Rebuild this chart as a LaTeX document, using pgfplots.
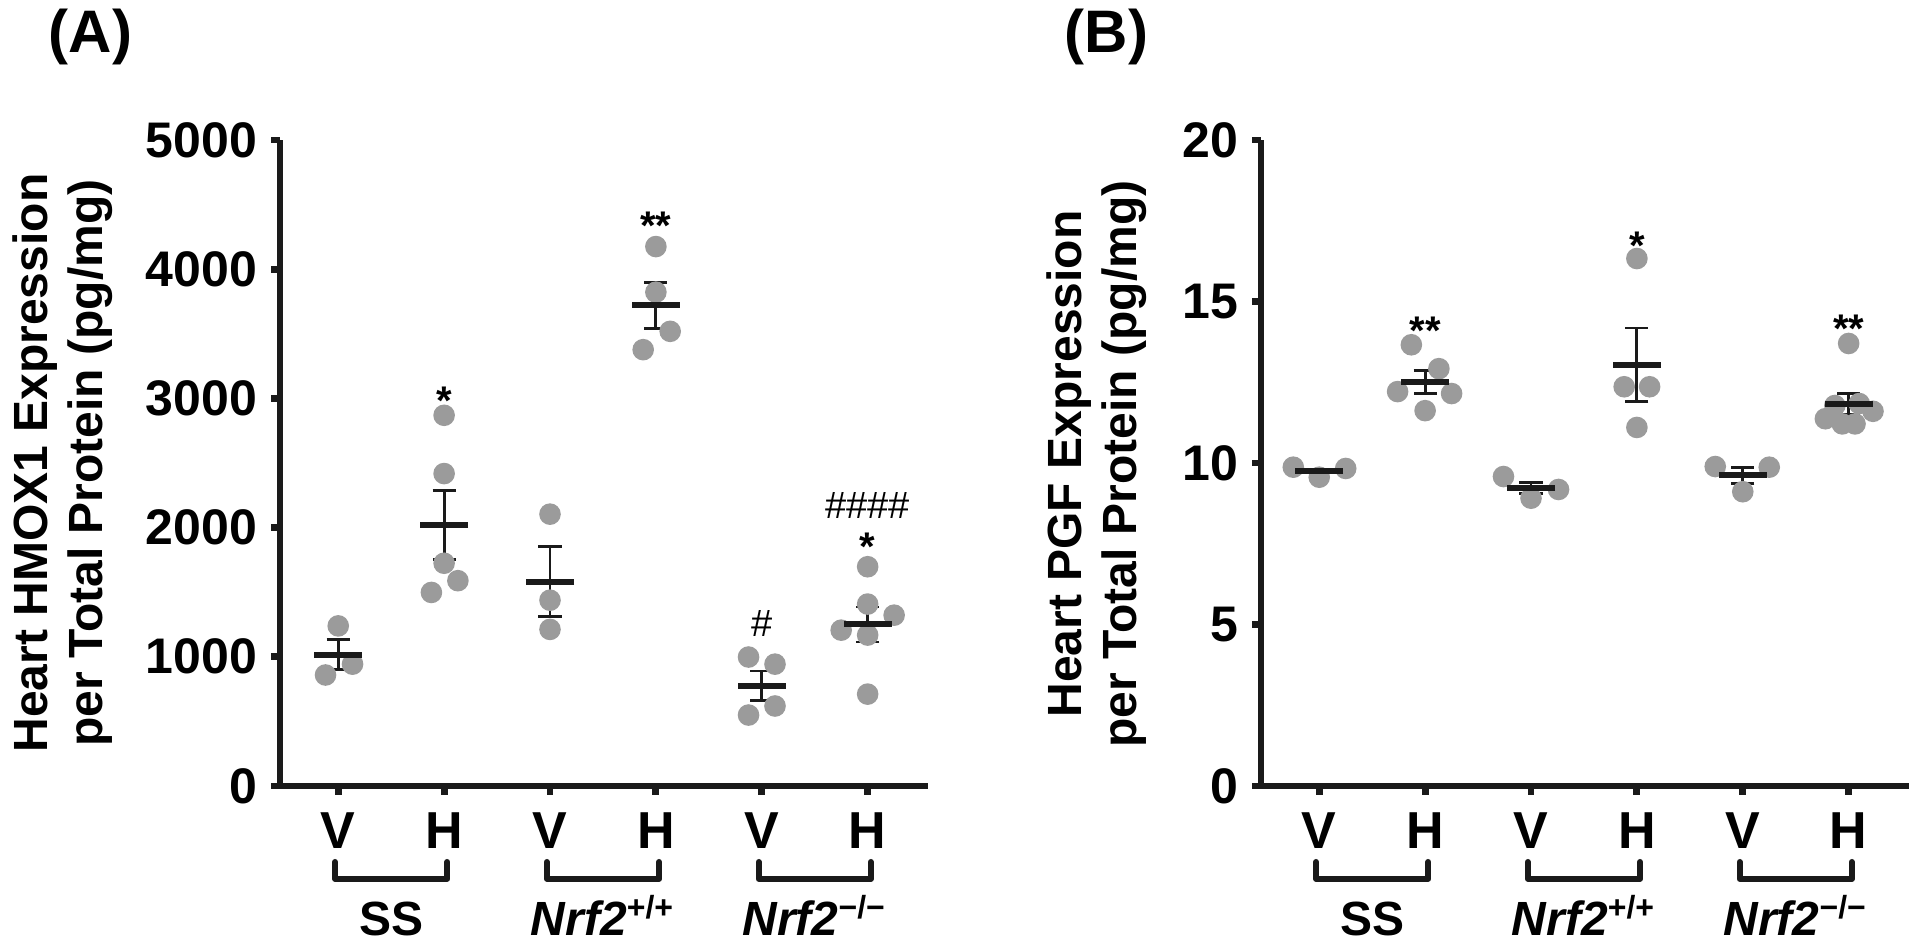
\documentclass[border=0pt]{standalone}
\usepackage{fontspec}
\setmainfont{Liberation Sans}
\usepackage{pgfplots}
\pgfplotsset{compat=1.18}
\definecolor{dotgray}{HTML}{9B9B9B}
\definecolor{ink}{HTML}{1A1A1A}

\pgfplotstableread{
x y
-0.00 1239
0.135 943
-0.12 859
1.00 2869
1.00 2418
1.00 1724
1.13 1589
0.88 1498
2.00 2104
2.00 1438
2.00 1212
3.00 4175
3.00 3822
3.135 3519
2.88 3377
3.875 998
4.125 943
4.125 619
3.875 549
5.00 1697
5.00 1408
5.25 1322
4.75 1206
5.00 1168
5.00 711
}\dotsA
\pgfplotstableread{
x m e
0 1017 115
1 2020 270
2 1582 270
3 3721 178
4 776 114
5 1250 135
}\meanA
\pgfplotstableread{
x y
-0.245 9.87
0.00 9.56
0.25 9.83
0.87 13.66
1.13 12.92
0.74 12.21
1.25 12.15
1.00 11.62
1.74 9.58
2.26 9.18
2.00 8.91
3.00 16.33
2.88 12.36
3.12 12.36
3.00 11.10
3.74 9.89
4.25 9.87
4.00 9.11
5.00 13.70
4.87 11.78
5.10 11.84
4.78 11.37
4.94 11.21
5.06 11.21
5.23 11.60
}\dotsB
\pgfplotstableread{
x m e
0 9.76 0.05
1 12.51 0.35
2 9.22 0.17
3 13.04 1.14
4 9.62 0.25
5 11.82 0.33
}\meanB

\pgfplotsset{
  panel/.style={
    scale only axis, width=162pt, height=161.5pt,
    xmin=-0.55, xmax=5.57, ymin=0,
    axis lines*=left,
    axis line style={line width=1.7pt, ink},
    tick align=outside,
    tick style={line width=1.7pt, ink},
    major tick length=2.2pt,
    xtick={0,1,2,3,4,5}, xticklabels={V,H,V,H,V,H},
    x tick label style={font=\fontsize{13}{13}\selectfont\bfseries, yshift=-1pt},
    y tick label style={font=\fontsize{12.5}{12.5}\selectfont\bfseries, /pgf/number format/1000 sep={}},
    scaled y ticks=false,
    /pgf/number format/assume math mode=true,
    clip=false,
  },
  dots/.style={only marks, mark=*, mark size=2.5pt, color=dotgray, mark options={draw=dotgray, fill=dotgray}},
  means/.style={ink, only marks, mark=-, mark size=6pt, mark options={line width=1.5pt, ink},
    error bars/.cd, y dir=both, y explicit,
    error bar style={line width=0.7pt, ink},
    error mark options={rotate=90, mark size=2.9pt, line width=0.7pt, ink}},
}
\newcommand{\brk}[2]{%
  \draw[line width=1.5pt, ink, line join=round, line cap=round]
    ([yshift=-19pt]axis cs:#1,0) -- ([yshift=-23.2pt]axis cs:#1,0) --
    ([yshift=-23.2pt]axis cs:#2,0) -- ([yshift=-19pt]axis cs:#2,0);
}
\newcommand{\brackets}{%
  \brk{-0.03}{1.03}
  \brk{1.97}{3.03}
  \brk{3.97}{5.03}
  \node[anchor=base, font=\fontsize{12}{12}\selectfont\bfseries] at ([yshift=-37.5pt]axis cs:0.5,0) {SS};
  \node[anchor=base, font=\fontsize{12}{12}\selectfont\bfseries] at ([yshift=-37.5pt]axis cs:2.5,0) {\textit{Nrf2}\textsuperscript{+/+}};
  \node[anchor=base, font=\fontsize{12}{12}\selectfont\bfseries] at ([yshift=-37.5pt]axis cs:4.5,0) {\textit{Nrf2}\textsuperscript{−/−}};
}

\begin{document}
\begin{tikzpicture}
\path[use as bounding box] (0,0) rectangle (480pt,237.5pt);

\node[anchor=north west, inner sep=0pt, font=\fontsize{15}{15}\selectfont\bfseries] at (12pt,235.5pt) {(A)};
\node[anchor=north west, inner sep=0pt, font=\fontsize{15}{15}\selectfont\bfseries] at (266pt,235.5pt) {(B)};

\node[rotate=90, anchor=base, inner sep=0pt, font=\fontsize{12}{12}\selectfont\bfseries] at (11.9pt,121.75pt) {Heart HMOX1 Expression};
\node[rotate=90, anchor=base, inner sep=0pt, font=\fontsize{12}{12}\selectfont\bfseries] at (25.6pt,121.75pt) {per Total Protein (pg/mg)};
\node[rotate=90, anchor=base, inner sep=0pt, font=\fontsize{12}{12}\selectfont\bfseries] at (270.3pt,121.5pt) {Heart PGF Expression};
\node[rotate=90, anchor=base, inner sep=0pt, font=\fontsize{12}{12}\selectfont\bfseries] at (284pt,121.5pt) {per Total Protein (pg/mg)};

\begin{axis}[panel, at={(70pt,41pt)}, anchor=south west,
  ymax=5000, ytick={0,1000,2000,3000,4000,5000}]
  \addplot[dots] table[x=x,y=y] {\dotsA};
  \addplot[means] table[x=x,y=m,y error=e] {\meanA};
  \node[font=\fontsize{10}{10}\selectfont\bfseries, yshift=-2.2pt] at (axis cs:1,3047) {*};
  \node[font=\fontsize{10}{10}\selectfont\bfseries, yshift=-2.2pt] at (axis cs:3,4404) {**};
  \node[font=\fontsize{9.5}{9.5}\selectfont] at (axis cs:4,1260) {\#};
  \node[font=\fontsize{9.5}{9.5}\selectfont] at (axis cs:5,2173) {\#\#\#\#};
  \node[font=\fontsize{10}{10}\selectfont\bfseries, yshift=-2.2pt] at (axis cs:5,1918) {*};
  \brackets
\end{axis}

\begin{axis}[panel, at={(315.25pt,41pt)}, anchor=south west,
  ymax=20, ytick={0,5,10,15,20}]
  \addplot[dots] table[x=x,y=y] {\dotsB};
  \addplot[means] table[x=x,y=m,y error=e] {\meanB};
  \node[font=\fontsize{10}{10}\selectfont\bfseries, yshift=-2.2pt] at (axis cs:1,14.37) {**};
  \node[font=\fontsize{10}{10}\selectfont\bfseries, yshift=-2.2pt] at (axis cs:3,16.99) {*};
  \node[font=\fontsize{10}{10}\selectfont\bfseries, yshift=-2.2pt] at (axis cs:5,14.43) {**};
  \brackets
\end{axis}
\end{tikzpicture}
\end{document}
